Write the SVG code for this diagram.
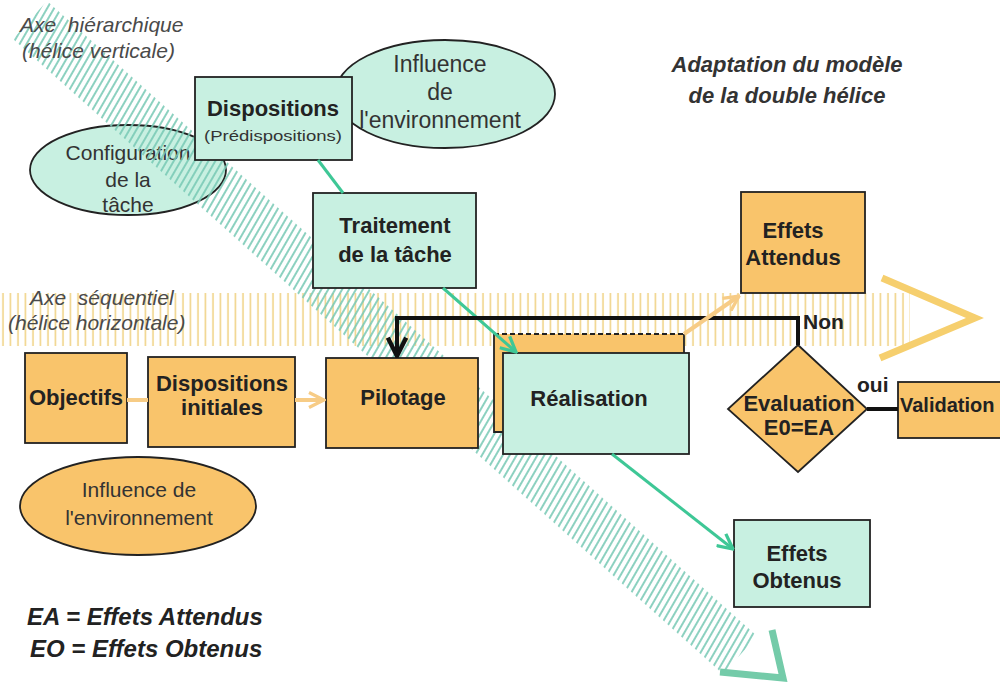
<svg xmlns="http://www.w3.org/2000/svg" width="1000" height="684" viewBox="0 0 1000 684">
<defs>
<pattern id="hatchY" patternUnits="userSpaceOnUse" width="7.5" height="10"><line x1="3" y1="0" x2="3" y2="10" stroke="#f0d489" stroke-width="1.6"/></pattern>
<pattern id="hatchT" patternUnits="userSpaceOnUse" width="6" height="10" patternTransform="rotate(30)"><line x1="3" y1="-1" x2="3" y2="11" stroke="#78c9b5" stroke-width="1.7"/></pattern>
<marker id="arrG" viewBox="0 0 12 12" refX="11" refY="6" markerWidth="18" markerHeight="18" markerUnits="userSpaceOnUse" orient="auto"><path d="M1,1 L11,6 L1,11" fill="none" stroke="#3ec796" stroke-width="2.2"/></marker>
<marker id="arrK" viewBox="0 0 12 12" refX="11" refY="6" markerWidth="22" markerHeight="22" markerUnits="userSpaceOnUse" orient="auto"><path d="M1,1 L11,6 L1,11" fill="none" stroke="#111" stroke-width="2.4"/></marker>
<marker id="arrO" viewBox="0 0 12 12" refX="11" refY="6" markerWidth="18" markerHeight="18" markerUnits="userSpaceOnUse" orient="auto"><path d="M1,1 L11,6 L1,11" fill="none" stroke="#f7cc86" stroke-width="2.2"/></marker>
</defs>
<style>
.or{fill:#f9c46b;stroke:#222;stroke-width:1.8}
.tl{fill:#c8f0e1;stroke:#222;stroke-width:1.8}
.b{font-family:"Liberation Sans",Arial,sans-serif;font-weight:bold;font-size:22px;fill:#222;text-anchor:middle}
.bs{font-family:"Liberation Sans",Arial,sans-serif;font-weight:bold;font-size:21px;fill:#222;text-anchor:start}
.r{font-family:"Liberation Sans",Arial,sans-serif;font-size:21px;fill:#333;text-anchor:middle}
.ax{font-family:"Liberation Sans",Arial,sans-serif;font-style:italic;font-size:21px;fill:#4a4a4a}
.ti{font-family:"Liberation Sans",Arial,sans-serif;font-style:italic;font-weight:bold;font-size:22px;fill:#333;text-anchor:middle}
.lg{font-family:"Liberation Sans",Arial,sans-serif;font-style:italic;font-weight:bold;font-size:24px;fill:#222}
.g{fill:none;stroke:#3ec796;stroke-width:3}
.k{fill:none;stroke:#111;stroke-width:4}
.o{fill:none;stroke:#f7cc86;stroke-width:4}
</style>
<rect width="1000" height="684" fill="#fff"/>

<g id="config">
<ellipse cx="128" cy="170" rx="98" ry="45" class="tl" stroke-width="1.5"/>
<text class="r" x="128" y="160">Configuration</text>
<text class="r" x="128" y="187">de la</text>
<text class="r" x="128" y="212">tâche</text>
</g>

<g id="axe-horizontal">
<rect x="0" y="293" width="910" height="53" fill="url(#hatchY)"/>
<polyline points="882,278 975,318 880,358" fill="none" stroke="#f6cf6e" stroke-width="7"/>
</g>
<g id="axe-vertical">
<polygon points="47,1 757,636 723,674 13,39" fill="url(#hatchT)"/>
<polyline points="772,630 783,678 720,672" fill="none" stroke="#74cba9" stroke-width="7"/>
</g>

<g id="labels">
<text class="ax" x="20" y="32" xml:space="preserve">Axe  hiérarchique</text>
<text class="ax" x="22" y="58">(hélice verticale)</text>
<text class="ax" x="30" y="305" xml:space="preserve">Axe  séquentiel</text>
<text class="ax" x="8" y="330">(hélice horizontale)</text>
<text class="ti" x="787" y="72">Adaptation du modèle</text>
<text class="ti" x="787" y="103">de la double hélice</text>
<text class="lg" x="27" y="625">EA = Effets Attendus</text>
<text class="lg" x="30" y="657">EO = Effets Obtenus</text>
</g>

<g id="influence-haut">
<ellipse cx="445" cy="94" rx="110" ry="54" class="tl" stroke-width="1.5"/>
<text class="r" x="440" y="72" style="font-size:23px">Influence</text>
<text class="r" x="440" y="100" style="font-size:23px">de</text>
<text class="r" x="440" y="128" style="font-size:23px">l'environnement</text>
</g>

<g id="dispositions">
<rect x="195" y="77" width="157" height="83" class="tl"/>
<text class="b" x="273" y="116">Dispositions</text>
<text x="273" y="141" font-family="'Liberation Sans',Arial,sans-serif" font-size="15" fill="#333" text-anchor="middle" textLength="138" lengthAdjust="spacingAndGlyphs">(Prédispositions)</text>
</g>

<g id="traitement">
<rect x="313" y="193" width="163" height="95" class="tl"/>
<text class="b" x="395" y="233">Traitement</text>
<text class="b" x="395" y="262">de la tâche</text>
</g>

<g id="effets-attendus">
<rect x="741" y="192" width="124" height="101" class="or"/>
<text class="b" x="793" y="238">Effets</text>
<text class="b" x="793" y="265">Attendus</text>
</g>

<g id="objectifs">
<rect x="25" y="353" width="102" height="90" class="or"/>
<text class="b" x="76" y="405">Objectifs</text>
</g>

<g id="dispositions-initiales">
<rect x="148" y="357" width="147" height="90" class="or"/>
<text class="b" x="222" y="391">Dispositions</text>
<text class="b" x="222" y="415">initiales</text>
</g>

<g id="pilotage">
<rect x="326" y="358" width="152" height="90" class="or"/>
<text class="b" x="403" y="405">Pilotage</text>
</g>

<g id="realisation">
<rect x="494" y="334" width="190" height="98" fill="#f9c46b"/>
<path d="M684,334 V432 H494 V334" fill="none" stroke="#222" stroke-width="1.8"/>
<line x1="494" y1="334" x2="684" y2="334" stroke="#222" stroke-width="1.8" stroke-dasharray="5,3"/>
<rect x="503" y="353" width="186" height="101" class="tl"/>
<text class="b" x="589" y="406">Réalisation</text>
</g>

<g id="evaluation">
<polygon points="798,345 867,409 798,472 728,409" class="or" stroke-width="1.5"/>
<text class="b" x="799" y="411">Evaluation</text>
<text class="b" x="799" y="435">E0=EA</text>
</g>

<g id="validation">
<rect x="898" y="382" width="120" height="56" class="or"/>
<text class="bs" x="900" y="412" style="font-size:20px">Validation</text>
</g>

<g id="effets-obtenus">
<rect x="734" y="520" width="136" height="87" class="tl"/>
<text class="b" x="797" y="561">Effets</text>
<text class="b" x="797" y="588">Obtenus</text>
</g>

<g id="influence-bas">
<ellipse cx="138" cy="506" rx="118" ry="49" class="or" stroke-width="1.5"/>
<text class="r" x="139" y="497">Influence de</text>
<text class="r" x="139" y="525">l'environnement</text>
</g>

<g id="connectors">
<line x1="318" y1="160" x2="343" y2="193" class="g"/>
<line x1="443" y1="288" x2="516" y2="352" class="g" marker-end="url(#arrG)"/>
<line x1="612" y1="454" x2="733" y2="549" class="g" marker-end="url(#arrG)"/>
<path d="M798,345 V318 H397 V356" class="k" marker-end="url(#arrK)"/>
<line x1="867" y1="409" x2="898" y2="409" class="k"/>
<line x1="127" y1="400" x2="148" y2="400" class="o"/>
<line x1="295" y1="400" x2="324" y2="400" class="o" marker-end="url(#arrO)"/>
<line x1="684" y1="334" x2="739" y2="296" class="o" marker-end="url(#arrO)"/>
<text class="bs" x="803" y="329">Non</text>
<text class="bs" x="857" y="392">oui</text>
</g>
</svg>
